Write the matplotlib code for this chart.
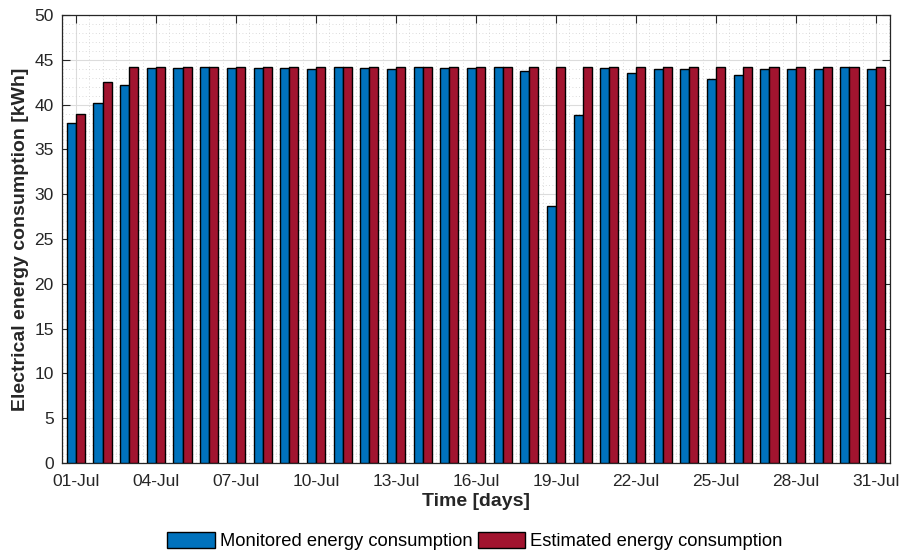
import matplotlib
matplotlib.use("Agg")
import matplotlib.pyplot as plt
import numpy as np
from matplotlib.ticker import MultipleLocator, FixedLocator

plt.rcParams['font.family'] = ['Liberation Sans', 'DejaVu Sans']

days = list(range(1, 32))
day_labels = [f"{d:02d}-Jul" for d in days]
monitored = [37.9, 40.2, 42.2, 44.1, 44.1, 44.15, 44.05, 44.05, 44.1, 43.95,
             44.15, 44.1, 44.0, 44.2, 44.1, 44.05, 44.15, 43.7, 28.7, 38.8,
             44.1, 43.5, 44.0, 44.0, 42.9, 43.3, 44.0, 44.0, 44.0, 44.15, 44.0]
estimated = [38.9, 42.5] + [44.2] * 29
yticks = list(range(0, 51, 5))

blue = '#0072BD'
red = '#A2142F'
dark = '#262626'

fig = plt.figure(figsize=(9.01, 5.5), dpi=100)
ax = fig.add_axes([0.0688, 0.1582, 0.9190, 0.8145])

x = np.array(days, dtype=float)
w = 0.34
ax.bar(x - w / 2, monitored, width=w, color=blue, edgecolor='black', linewidth=1.0,
       label='Monitored energy consumption', zorder=3)
ax.bar(x + w / 2, estimated, width=w, color=red, edgecolor='black', linewidth=1.0,
       label='Estimated energy consumption', zorder=3)

ax.set_xlim(0.48, 31.52)
ax.set_ylim(0, 50)
ax.set_yticks(yticks)
ax.yaxis.set_minor_locator(MultipleLocator(1))
tick_days = days[::3]
ax.set_xticks(tick_days)
ax.set_xticklabels([day_labels[d - 1] for d in tick_days])
ax.xaxis.set_minor_locator(FixedLocator(np.arange(0.5, 32, 0.5)))

ax.grid(True, which='major', color='#dcdcdc', linewidth=0.8, zorder=0)
ax.grid(True, which='minor', color='#d0d0d0', linewidth=0.6, linestyle=(0, (1, 3)), zorder=0)
ax.set_axisbelow(True)

ax.tick_params(which='major', direction='in', length=6, width=0.8, colors=dark,
               labelsize=12.5, top=True, right=True, pad=6)
ax.tick_params(axis='x', which='major', pad=8)
ax.tick_params(which='minor', length=0, top=True, right=True)
for s in ax.spines.values():
    s.set_color(dark)
    s.set_linewidth(0.9)

ax.set_ylabel('Electrical energy consumption [kWh]', fontsize=14, fontweight='bold',
              color=dark, labelpad=4)
ax.set_xlabel('Time [days]', fontsize=14, fontweight='bold', color=dark, labelpad=3)

fig.legend(loc='lower center', bbox_to_anchor=(0.527, -0.03), ncol=2, frameon=False,
           fontsize=13.2, handlelength=2.6, handleheight=1.0, handletextpad=0.25,
           columnspacing=0.3)

fig.savefig('out.png', dpi=100)
